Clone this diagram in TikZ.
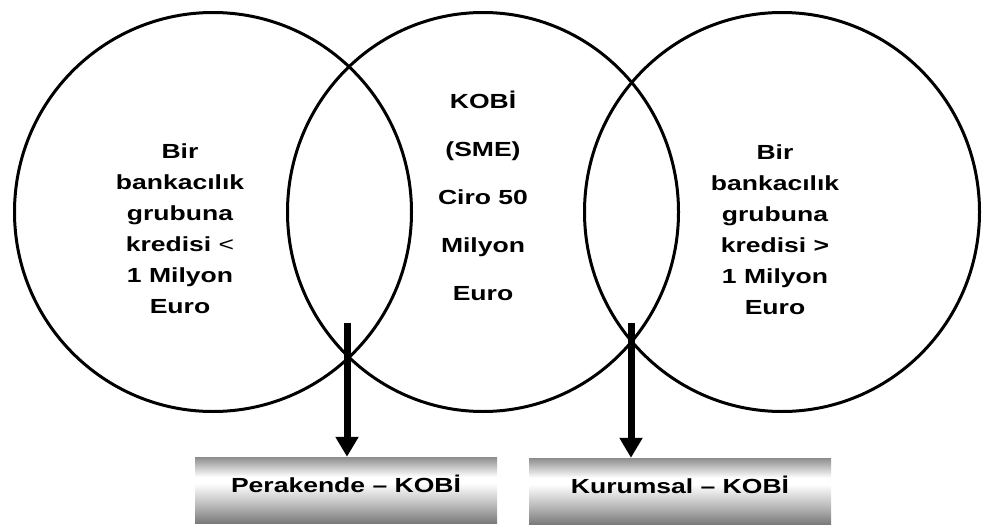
\documentclass[tikz,border=0pt]{standalone}
\usepackage{fontspec}
\setmainfont[FakeStretch=1.3]{Liberation Sans}
\usetikzlibrary{arrows.meta,shapes.geometric}
\pgfdeclareverticalshading{boxshade}{100bp}{color(0bp)=(black!55); color(25bp)=(black!52); color(38bp)=(black!28); color(55bp)=(white); color(60bp)=(white); color(75bp)=(black!45); color(100bp)=(black!45)}
\begin{document}
\begin{tikzpicture}[x=1pt,y=-1pt,
  ring/.style={draw, ellipse, line width=3pt, inner sep=0pt},
  lbl/.style={font=\fontsize{20.4}{31}\selectfont\bfseries, align=center, inner sep=0pt},
  midlbl/.style={font=\fontsize{20.4}{48}\selectfont\bfseries, align=center, inner sep=0pt},
  resbox/.style={shading=boxshade, minimum width=302pt, minimum height=66pt, inner sep=0pt,
    font=\fontsize{20.4}{24}\selectfont\bfseries},
  arr/.style={line width=7pt, -{Triangle[width=22pt,length=20pt]}}]
\useasboundingbox (0,0) rectangle (982,527);
\node[ring, minimum width=397pt, minimum height=399pt] (cl) at (213,212) {};
\node[ring, minimum width=391pt, minimum height=399pt] (cm) at (483,212) {};
\node[ring, minimum width=395pt, minimum height=399pt] (cr) at (782,212) {};
\node[lbl] (tl) at (180,229) {Bir\\bankacılık\\grubuna\\kredisi {\mdseries<}\\1 Milyon\\Euro};
\node[midlbl] (tm) at (483,196) {KOBİ\\(SME)\\Ciro 50\\Milyon\\Euro};
\node[lbl] (tr) at (775,230) {Bir\\bankacılık\\grubuna\\kredisi >\\1 Milyon\\Euro};
\node[resbox] (p) at (346,490) {\raisebox{13pt}{Perakende – KOBİ}};
\node[resbox] (k) at (680,491) {\raisebox{12pt}{Kurumsal – KOBİ}};
\coordinate (a1) at (347,323);
\coordinate (a2) at (631,323);
\draw[arr] (a1) -- (a1 |- p.north);
\draw[arr] (a2) -- (a2 |- k.north);
\end{tikzpicture}
\end{document}
